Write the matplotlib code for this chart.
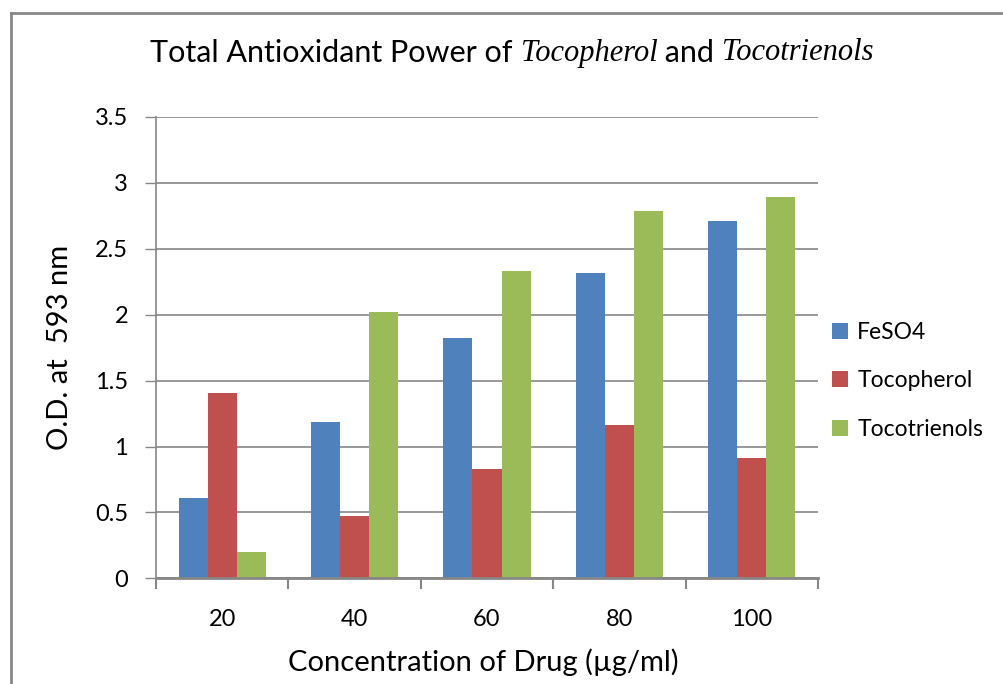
import matplotlib
matplotlib.use("Agg")
import matplotlib.pyplot as plt
from matplotlib.lines import Line2D
import numpy as np

# Concentrations and optical density readings
concentrations = ["20", "40", "60", "80", "100"]
feso4 = [0.61, 1.19, 1.82, 2.32, 2.71]
tocopherol = [1.41, 0.47, 0.83, 1.16, 0.91]
tocotrienols = [0.20, 2.02, 2.33, 2.79, 2.89]
series_names = ["FeSO4", "Tocopherol", "Tocotrienols"]
colors = ["#4F81BD", "#C0504D", "#9BBB59"]

SANS = "Lato"
SERIF = "Liberation Serif"
GRID = "#868686"

fig = plt.figure(figsize=(10.04, 6.84), dpi=100)
ax = fig.add_axes([0.1554, 0.1544, 0.6593, 0.6746])

x = np.arange(len(concentrations)) + 0.5
width = 0.22
for i, (vals, name, c) in enumerate(zip([feso4, tocopherol, tocotrienols], series_names, colors)):
    ax.bar(x + (i - 1) * width, vals, width, color=c, label=name, zorder=3)

ax.set_xlim(0, len(concentrations))
ax.set_ylim(0, 3.5)
ax.set_yticks(np.arange(0, 3.51, 0.5))
ax.set_yticklabels(["0", "0.5", "1", "1.5", "2", "2.5", "3", "3.5"])
ax.set_xticks(x)
ax.set_xticklabels(concentrations)
ax.set_xticks(np.arange(0, len(concentrations) + 1), minor=True)
ax.tick_params(axis="x", which="major", length=0, pad=22, labelsize=17, labelcolor="black")
ax.tick_params(axis="x", which="minor", length=8, width=1.5, color=GRID, direction="out")
ax.tick_params(axis="y", length=8, width=1, color=GRID, pad=12, labelsize=17)
for lab in ax.get_xticklabels() + ax.get_yticklabels():
    lab.set_fontfamily(SANS)

ax.grid(axis="y", color=GRID, linewidth=1.2, zorder=0)
for side in ["top", "right"]:
    ax.spines[side].set_visible(False)
ax.spines["left"].set_color(GRID)
ax.spines["left"].set_linewidth(1.2)
ax.spines["bottom"].set_color(GRID)
ax.spines["bottom"].set_linewidth(2)
ax.spines["bottom"].set_zorder(4)

ax.set_ylabel("O.D. at  593 nm", fontsize=21, fontfamily=SANS)
ax.yaxis.set_label_coords(-0.126, 0.5)
ax.set_xlabel("Concentration of Drug (\u00b5g/ml)", fontsize=21, fontfamily=SANS)
ax.xaxis.set_label_coords(0.495, -0.152)

leg = ax.legend(loc="center left", bbox_to_anchor=(0.99, 0.428), frameon=False,
                prop={"family": SANS, "size": 16.5}, handlelength=0.7, handleheight=0.7,
                handletextpad=0.4, labelspacing=1.2)

# title built from plain and italic pieces
pieces = [("Total Antioxidant Power of ", SANS, "normal"),
          ("Tocopherol", SERIF, "italic"),
          (" and ", SANS, "normal"),
          ("Tocotrienols", SERIF, "italic")]
renderer = fig.canvas.get_renderer()
texts = []
for s, fam, style in pieces:
    t = fig.text(0, 1 - 53 / 684, s, fontsize=22, fontfamily=fam, style=style,
                 va="center", ha="left")
    texts.append(t)
widths = [t.get_window_extent(renderer).width for t in texts]
total = sum(widths)
xpos = 512 - total / 2
for t, w in zip(texts, widths):
    t.set_x(xpos / fig.bbox.width)
    xpos += w

# chart frame on left and top
fig.add_artist(Line2D([11 / 1004, 11 / 1004], [0, 1 - 13 / 684], transform=fig.transFigure,
                      color="#888888", linewidth=2))
fig.add_artist(Line2D([11 / 1004, 1], [1 - 13 / 684, 1 - 13 / 684], transform=fig.transFigure,
                      color="#888888", linewidth=2))

fig.savefig("out.png", dpi=100)
